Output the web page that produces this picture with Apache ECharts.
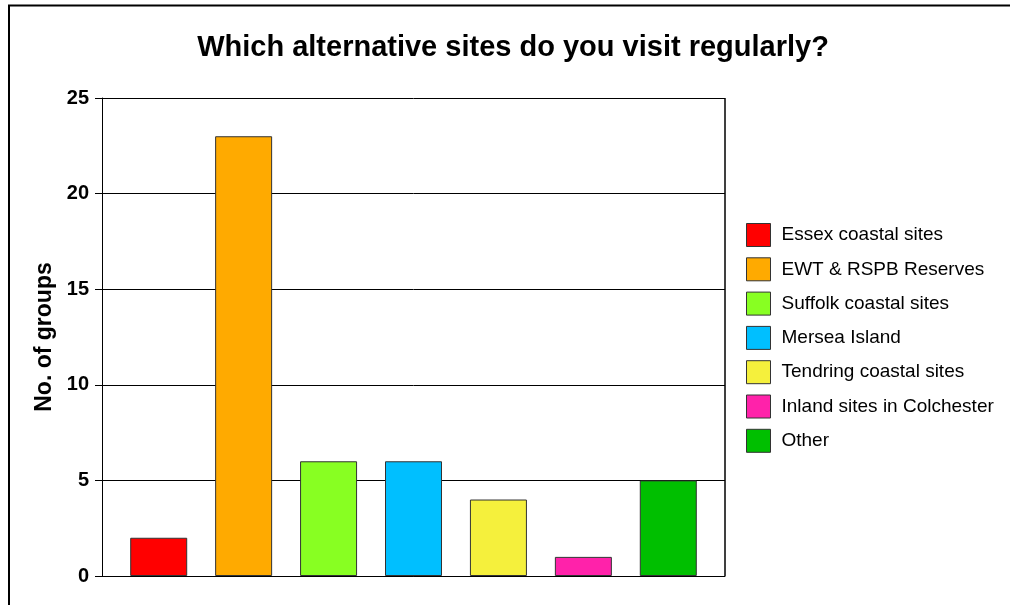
<!DOCTYPE html>
<html>
<head>
<meta charset="utf-8">
<script src="https://cdn.jsdelivr.net/npm/echarts@6/dist/echarts.min.js"></script>
<style>
  html, body { margin: 0; padding: 0; background: #fff; }
  #chart { width: 1010px; height: 605px; }
</style>
</head>
<body>
<div id="chart"></div>
<script>
var siteNames = [
    'Essex coastal sites',
    'EWT & RSPB Reserves',
    'Suffolk coastal sites',
    'Mersea Island',
    'Tendring coastal sites',
    'Inland sites in Colchester',
    'Other'
];
var groupCounts = [2, 23, 6, 6, 4, 1, 5];
var siteColors = ['#ff0000', '#ffaa00', '#88ff22', '#00bfff', '#f5f03c', '#ff22aa', '#00bf00'];

var chart = echarts.init(document.getElementById('chart'));

/* One series per site, all in a single category. */
var series = siteNames.map(function (name, i) {
    return {
        name: name,
        type: 'bar',
        data: [groupCounts[i]],
        barWidth: 57,
        barGap: '49%',
        itemStyle: {
            color: siteColors[i],
            borderColor: '#333',
            borderWidth: 1
        }
    };
});

var option = {
    animation: false,
    backgroundColor: '#fff',
    title: {
        text: 'Which alternative sites do you visit regularly?',
        left: 513,
        top: 33,
        padding: 0,
        textAlign: 'center',
        textStyle: {
            fontFamily: 'Liberation Sans',
            fontWeight: 'bold',
            fontSize: 29,
            color: '#000'
        }
    },
    legend: {
        orient: 'vertical',
        left: 746,
        top: 223,
        padding: 0,
        itemWidth: 24,
        itemHeight: 23,
        itemGap: 10.3,
        icon: 'rect',
        textStyle: {
            fontFamily: 'Liberation Sans',
            fontSize: 19,
            color: '#000',
            padding: [0, 0, 0, 6]
        },
        itemStyle: { borderColor: '#333', borderWidth: 1 },
        data: siteNames
    },
    grid: {
        left: 102,
        right: 285,
        top: 98,
        bottom: 29
    },
    xAxis: {
        type: 'category',
        data: [''],
        axisLine: { lineStyle: { color: '#000', width: 1 } },
        axisTick: { show: false },
        axisLabel: { show: false }
    },
    yAxis: {
        type: 'value',
        min: 0,
        max: 25,
        interval: 5,
        name: 'No. of groups',
        nameLocation: 'middle',
        nameGap: 41,
        nameTextStyle: {
            fontFamily: 'Liberation Sans',
            fontWeight: 'bold',
            fontSize: 23,
            color: '#000'
        },
        axisLine: { show: true, lineStyle: { color: '#000', width: 1 } },
        axisTick: { show: true, length: 7, lineStyle: { color: '#000' } },
        axisLabel: {
            margin: 13,
            fontFamily: 'Liberation Sans',
            fontWeight: 'bold',
            fontSize: 20,
            color: '#000'
        },
        splitLine: { lineStyle: { color: '#000', width: 1 } }
    },
    graphic: [
        {
            type: 'rect',
            shape: { x: 9, y: 5.5, width: 1100, height: 700 },
            style: { fill: 'none', stroke: '#000', lineWidth: 2 },
            silent: true
        },
        {
            type: 'rect',
            shape: { x: 725, y: 98, width: 0, height: 478 },
            style: { fill: 'none', stroke: '#000', lineWidth: 1 },
            silent: true
        }
    ],
    series: series
};
chart.setOption(option);

window.addEventListener('resize', function () {
    chart.resize();
});
</script>
</body>
</html>
